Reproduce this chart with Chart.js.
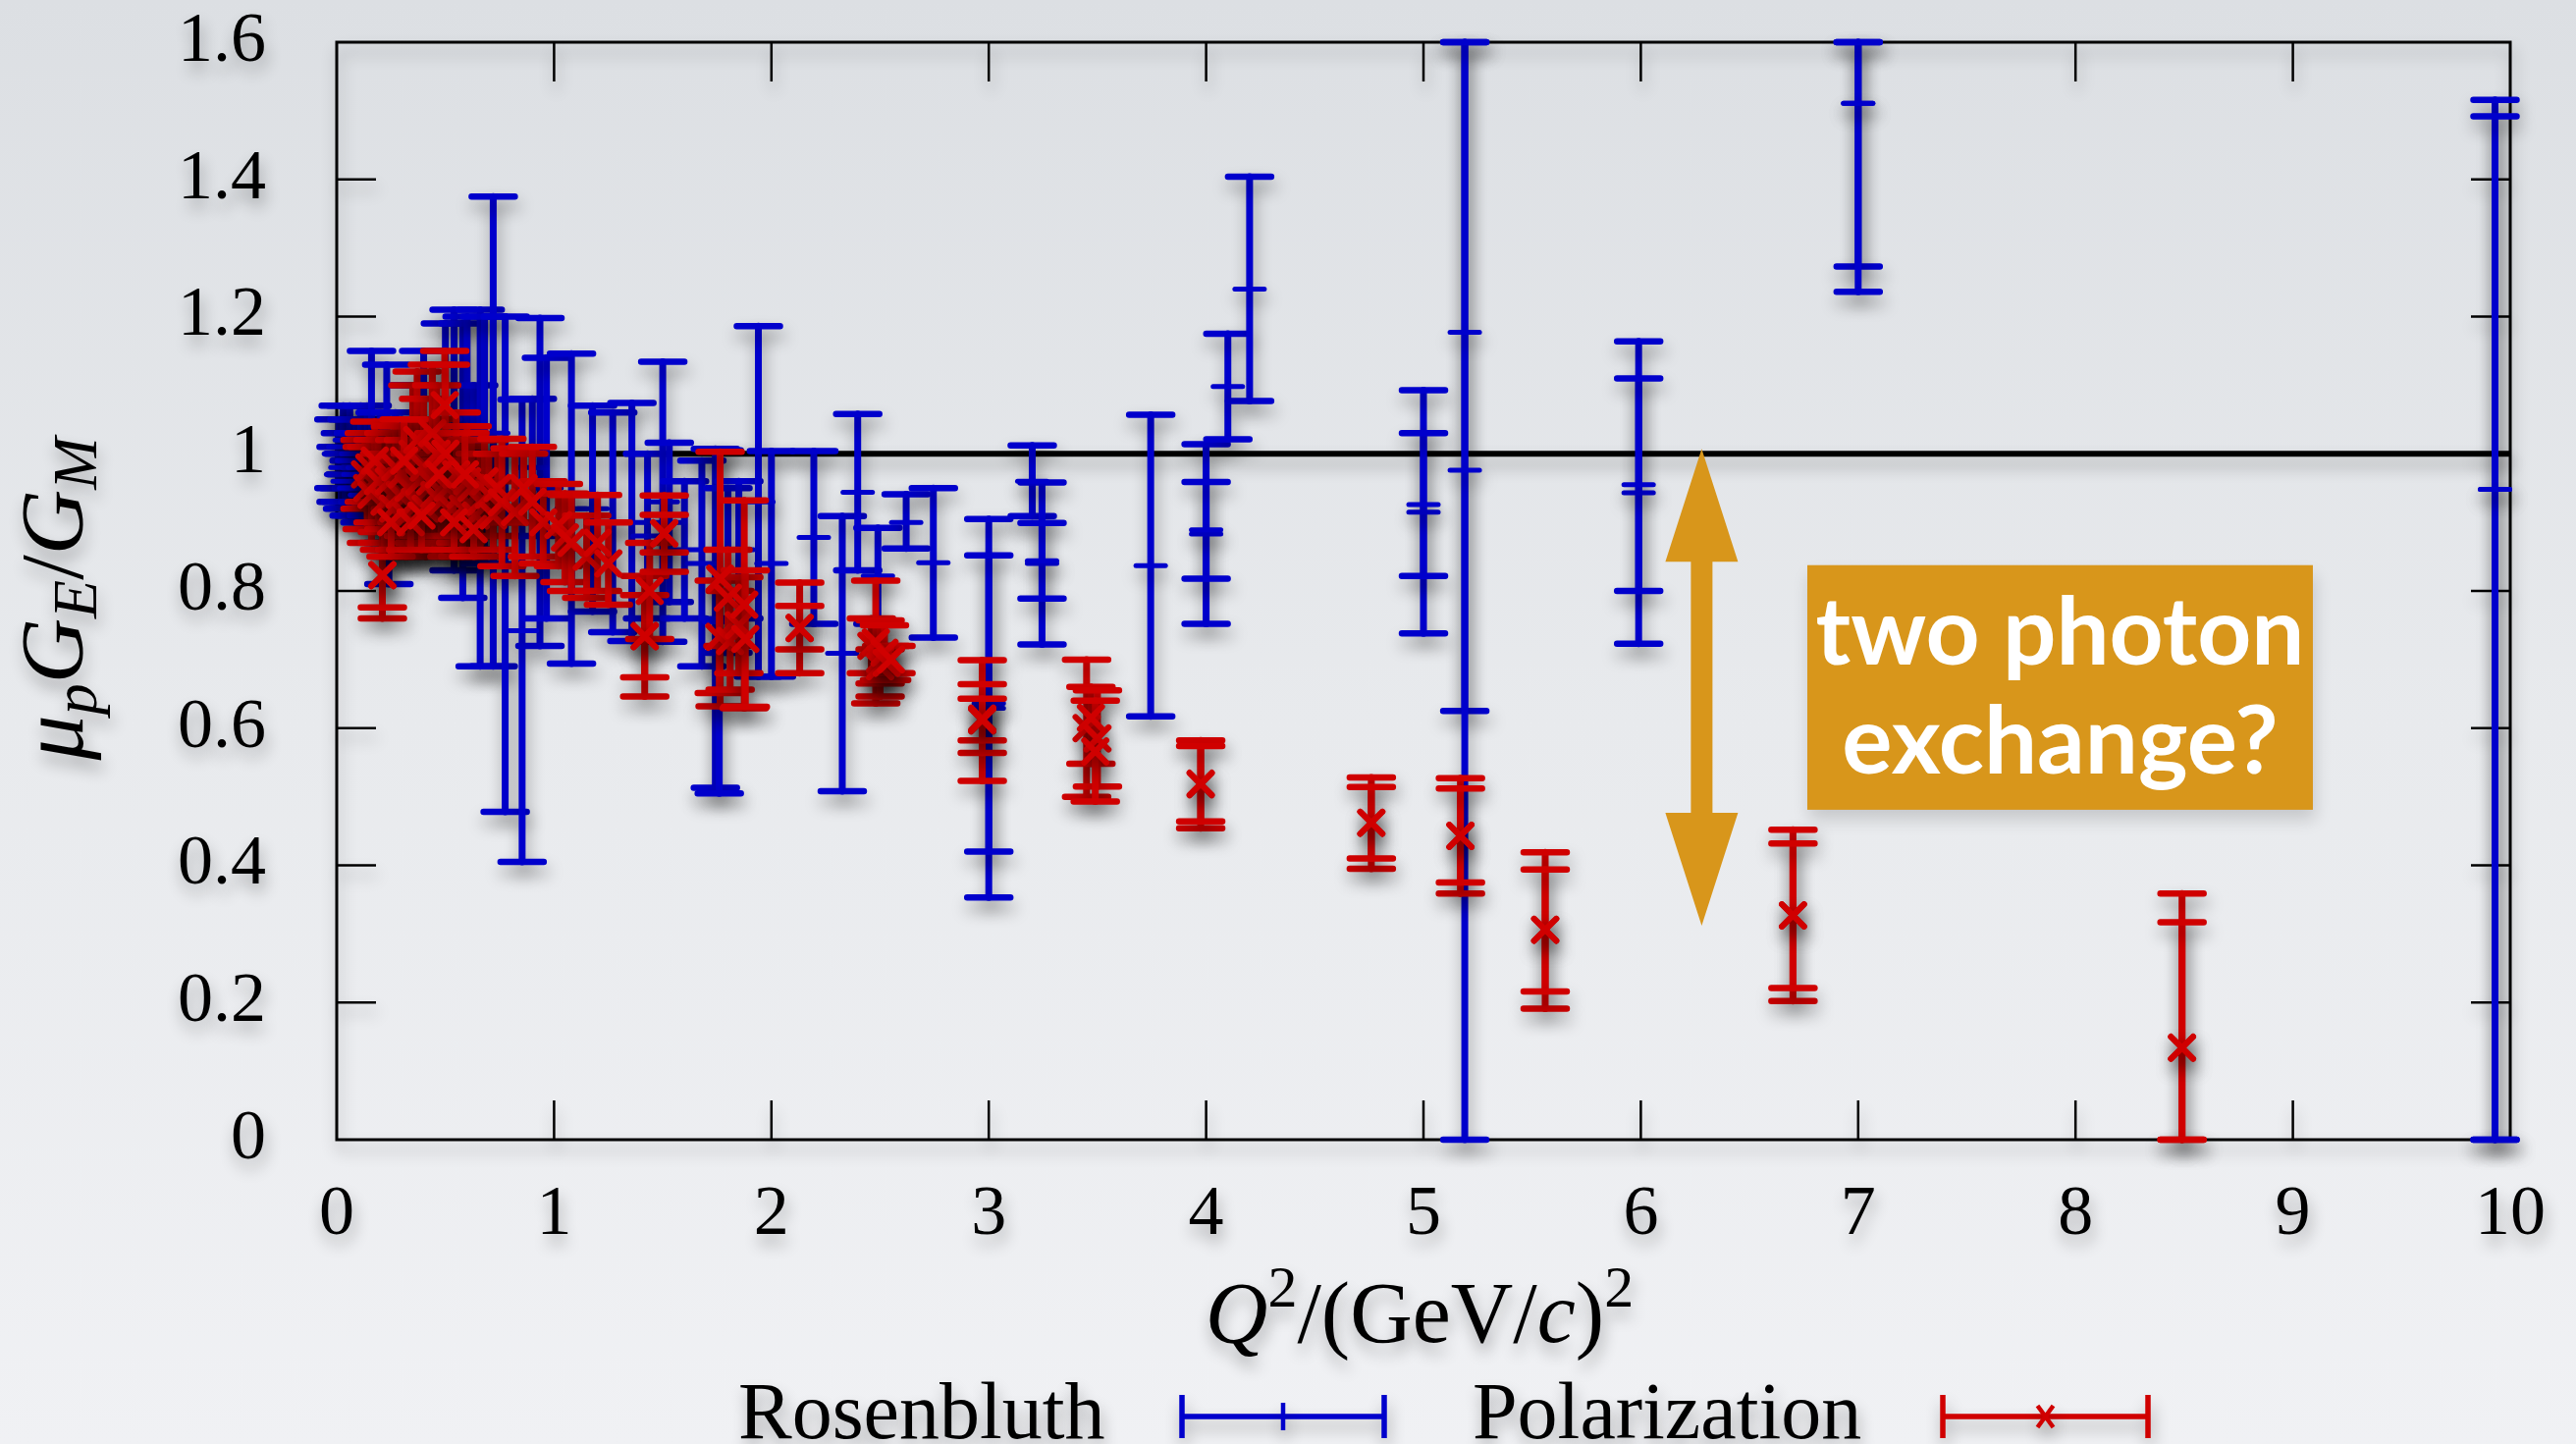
<!DOCTYPE html>
<html>
<head>
<meta charset="utf-8">
<title>mu_p G_E / G_M</title>
<script src="https://cdn.jsdelivr.net/npm/chart.js@4.4.1/dist/chart.umd.min.js"></script>
<style>
  html, body { margin: 0; padding: 0; background: #e8eaee; overflow: hidden; }
  canvas { display: block; }
</style>
</head>
<body>
<canvas id="ratioChart" width="2624" height="1471"></canvas>
<script>
// ── Rosenbluth separation (blue) ──
const rosQ2   = [0.01, 0.02, 0.03, 0.04, 0.05, 0.06, 0.07, 0.08, 0.09, 0.10, 0.11, 0.12, 0.13, 0.14, 0.15,
                 0.16, 0.20, 0.23, 0.24, 0.27, 0.30, 0.35, 0.40, 0.45, 0.50, 0.54, 0.58, 0.60, 0.63, 0.66,
                 0.68, 0.72, 0.775, 0.853, 0.90, 0.935, 0.965, 1.08, 1.177, 1.27, 1.358, 1.43, 1.50, 1.53, 1.60,
                 1.68, 1.742, 1.76, 1.80, 1.85, 1.94, 2.00, 2.195, 2.326, 2.397, 2.49, 2.62, 2.745, 3.00, 3.00,
                 3.20, 3.245, 3.245, 3.745, 4.00, 4.00, 4.10, 4.20, 5.00, 5.00, 5.19, 5.19, 5.99, 5.99, 7.00,
                 7.00, 9.93, 9.93];
const rosVal  = [1.00, 0.97, 1.01, 0.98, 0.96, 1.02, 0.99, 0.95, 1.00, 0.97, 1.03, 0.98, 0.94, 1.01, 0.97,
                 1.03, 0.98, 1.00, 0.92, 1.00, 0.96, 1.00, 1.02, 0.97, 1.05, 1.02, 0.99, 1.03, 0.98, 0.95,
                 1.02, 1.03, 0.84, 0.742, 0.98, 0.96, 0.95, 0.92, 0.92, 0.90, 0.90, 0.88, 0.93, 0.90, 0.86,
                 0.84, 0.76, 0.755, 0.83, 0.86, 0.93, 0.84, 0.878, 0.709, 0.944, 0.822, 0.90, 0.841, 0.629, 0.636,
                 0.96, 0.84, 0.844, 0.837, 0.883, 0.889, 1.098, 1.24, 0.915, 0.926, 1.177, 0.976, 0.943, 0.955, 1.511,
                 1.511, 0.948, 0.948];
const rosLow  = [0.95, 0.93, 0.95, 0.93, 0.92, 0.97, 0.93, 0.91, 0.95, 0.91, 0.99, 0.93, 0.90, 0.95, 0.92,
                 0.91, 0.90, 0.87, 0.81, 0.94, 0.87, 0.90, 0.89, 0.89, 0.91, 0.83, 0.79, 0.86, 0.86, 0.69,
                 0.84, 0.69, 0.478, 0.405, 0.88, 0.72, 0.76, 0.694, 0.77, 0.74, 0.727, 0.76, 0.726, 0.784, 0.76,
                 0.69, 0.513, 0.505, 0.71, 0.76, 0.675, 0.675, 0.752, 0.508, 0.83, 0.752, 0.862, 0.732, 0.353, 0.42,
                 0.909, 0.722, 0.789, 0.617, 0.752, 0.818, 1.021, 1.077, 0.738, 0.822, 0.625, 0.0, 0.723, 0.80, 1.273,
                 1.236, 0.0, 0.0];
const rosHigh = [1.05, 1.01, 1.07, 1.03, 1.00, 1.07, 1.05, 0.99, 1.05, 1.03, 1.07, 1.03, 0.98, 1.07, 1.02,
                 1.15, 1.06, 1.13, 1.03, 1.06, 1.05, 1.10, 1.15, 1.05, 1.19, 1.21, 1.19, 1.20, 1.10, 1.21,
                 1.20, 1.375, 1.20, 1.079, 1.08, 1.198, 1.14, 1.146, 1.07, 1.06, 1.074, 1.00, 1.134, 1.016, 0.96,
                 0.99, 1.007, 1.005, 0.95, 0.96, 1.186, 1.004, 1.004, 0.909, 1.058, 0.892, 0.941, 0.95, 0.905, 0.852,
                 1.012, 0.958, 0.899, 1.057, 1.014, 0.959, 1.175, 1.404, 1.0925, 1.03, 1.6, 1.6, 1.164, 1.11, 1.6,
                 1.6, 1.516, 1.492];

// ── Polarization transfer (red) ──
const polQ2   = [0.13, 0.14, 0.15, 0.16, 0.175, 0.19, 0.21, 0.21, 0.22, 0.24, 0.26, 0.27, 0.29, 0.30, 0.32,
                 0.33, 0.35, 0.36, 0.37, 0.38, 0.40, 0.41, 0.43, 0.44, 0.45, 0.46, 0.48, 0.497, 0.50, 0.51,
                 0.53, 0.55, 0.57, 0.58, 0.60, 0.62, 0.64, 0.66, 0.68, 0.70,
                 0.25, 0.31, 0.34, 0.39, 0.47, 0.54, 0.59, 0.63, 0.72, 0.74,
                 0.76, 0.82, 0.86, 0.90, 0.95, 1.02, 1.05, 1.08, 1.15, 1.20, 1.25, 1.417, 1.417, 1.44, 1.507,
                 1.507, 1.764, 1.76, 1.80, 1.81, 1.85, 1.875, 1.88, 2.13, 2.13, 2.46, 2.48, 2.50, 2.50, 2.52,
                 2.53, 2.55, 2.97, 2.97, 2.97, 3.45, 3.47, 3.50, 3.49, 3.975, 3.975, 4.76, 4.76, 5.17, 5.17,
                 5.56, 5.56, 6.70, 6.70, 8.49, 8.49];
const polVal  = [0.97, 0.95, 0.98, 0.94, 0.99, 0.96, 0.823, 0.823, 0.93, 0.96, 0.92, 0.98, 0.94, 0.97, 0.91,
                 0.95, 1.00, 0.93, 1.02, 0.96, 0.98, 0.92, 0.96, 1.03, 0.94, 1.00, 0.93, 1.071, 1.00, 0.95,
                 0.92, 0.97, 0.94, 0.92, 0.96, 0.95, 0.91, 0.93, 0.96, 0.94,
                 0.90, 0.99, 0.90, 0.91, 0.97, 0.90, 0.97, 0.89, 0.91, 0.95,
                 0.929, 0.915, 0.95, 0.93, 0.90, 0.896, 0.878, 0.87, 0.85, 0.87, 0.84, 0.734, 0.734, 0.80, 0.884,
                 0.884, 0.818, 0.733, 0.79, 0.727, 0.75, 0.78, 0.73, 0.746, 0.746, 0.72, 0.725, 0.70, 0.69, 0.71,
                 0.695, 0.70, 0.611, 0.614, 0.612, 0.600, 0.615, 0.585, 0.566, 0.518, 0.519, 0.462, 0.462, 0.443, 0.443,
                 0.306, 0.306, 0.327, 0.327, 0.134, 0.134];
const polLow  = [0.92, 0.89, 0.93, 0.87, 0.93, 0.90, 0.760, 0.776, 0.86, 0.89, 0.85, 0.92, 0.86, 0.90, 0.85,
                 0.88, 0.90, 0.86, 0.92, 0.87, 0.88, 0.85, 0.87, 0.93, 0.86, 0.90, 0.86, 0.99, 0.87, 0.88,
                 0.85, 0.88, 0.87, 0.85, 0.88, 0.88, 0.85, 0.86, 0.90, 0.88,
                 0.85, 0.93, 0.86, 0.86, 0.91, 0.86, 0.91, 0.85, 0.86, 0.90,
                 0.836, 0.822, 0.90, 0.85, 0.84, 0.836, 0.813, 0.80, 0.79, 0.80, 0.78, 0.646, 0.674, 0.73, 0.828,
                 0.856, 0.632, 0.651, 0.72, 0.656, 0.68, 0.629, 0.631, 0.680, 0.715, 0.68, 0.636, 0.646, 0.665, 0.67,
                 0.67, 0.68, 0.523, 0.564, 0.582, 0.500, 0.548, 0.515, 0.493, 0.454, 0.464, 0.395, 0.410, 0.359, 0.375,
                 0.191, 0.216, 0.202, 0.221, 0.0, 0.0];
const polHigh = [1.02, 1.01, 1.03, 1.01, 1.047, 1.02, 0.886, 0.870, 1.00, 1.03, 0.99, 1.04, 1.02, 1.04, 0.97,
                 1.02, 1.10, 1.00, 1.12, 1.05, 1.08, 0.99, 1.05, 1.13, 1.02, 1.10, 1.00, 1.15, 1.13, 1.02,
                 0.99, 1.06, 1.01, 0.99, 1.04, 1.02, 0.97, 1.00, 1.02, 1.00,
                 0.95, 1.05, 0.94, 0.96, 1.03, 0.94, 1.03, 0.93, 0.96, 1.00,
                 1.022, 1.008, 1.00, 1.01, 0.96, 0.956, 0.942, 0.94, 0.91, 0.94, 0.90, 0.822, 0.794, 0.87, 0.939,
                 0.911, 1.003, 0.815, 0.86, 0.80, 0.82, 0.932, 0.83, 0.812, 0.778, 0.76, 0.815, 0.757, 0.715, 0.75,
                 0.72, 0.72, 0.699, 0.664, 0.643, 0.700, 0.660, 0.655, 0.640, 0.582, 0.574, 0.528, 0.514, 0.527, 0.512,
                 0.419, 0.394, 0.452, 0.432, 0.359, 0.317];

// axis ticks
const xTicks = [0, 1, 2, 3, 4, 5, 6, 7, 8, 9, 10];
const yTicks = [0, 0.2, 0.4, 0.6, 0.8, 1.0, 1.2, 1.4, 1.6];

// annotation: arrow + box, in data units
const arrowQ2 = 6.28;
const arrowTop = 1.007;
const arrowBottom = 0.312;
const boxQ2 = [6.766, 9.092];
const boxVal = [0.481, 0.8376];
const boxLines = ['two photon', 'exchange?'];

const BLUE = '#0000cc';
const RED = '#d00000';
const ORANGE = '#d8961b';
const SERIF = "'Liberation Serif', 'Times New Roman', serif";

function setShadow(ctx, alpha) {
    ctx.shadowColor = `rgba(0,0,0,${alpha})`;
    ctx.shadowBlur = 16;
    ctx.shadowOffsetX = 2;
    ctx.shadowOffsetY = 10;
}

function clearShadow(ctx) {
    ctx.shadowColor = 'rgba(0,0,0,0)';
    ctx.shadowBlur = 0;
    ctx.shadowOffsetX = 0;
    ctx.shadowOffsetY = 0;
}

// draws a list of [text, font, dy] pieces one after another, centred on x
function drawRich(ctx, parts, x, y) {
    let total = 0;
    parts.forEach(p => { ctx.font = p[1]; total += ctx.measureText(p[0]).width; });
    let cx = x - total / 2;
    parts.forEach(p => {
        ctx.font = p[1];
        ctx.fillText(p[0], cx, y + (p[2] || 0));
        cx += ctx.measureText(p[0]).width;
    });
}

// ── background, frame, ticks, y=1 line ──
const framePlugin = {
    id: 'frame',
    beforeDraw(chart) {
        const { ctx, width, height } = chart;
        ctx.save();
        const g = ctx.createLinearGradient(0, 0, 0, height);
        g.addColorStop(0, '#dcdfe3');
        g.addColorStop(0.5, '#e8eaed');
        g.addColorStop(1, '#f0f1f4');
        ctx.fillStyle = g;
        ctx.fillRect(0, 0, width, height);
        ctx.restore();
        setShadow(ctx, 0.3);
    },
    beforeDatasetsDraw(chart) {
        const { ctx, chartArea: a, scales: { x, y } } = chart;
        ctx.save();
        setShadow(ctx, 0.3);
        ctx.strokeStyle = '#000';

        // reference line at 1
        ctx.lineWidth = 6;
        ctx.beginPath();
        ctx.moveTo(a.left, y.getPixelForValue(1));
        ctx.lineTo(a.right, y.getPixelForValue(1));
        ctx.stroke();

        ctx.lineWidth = 3;
        ctx.strokeRect(a.left, a.top, a.right - a.left, a.bottom - a.top);

        ctx.lineWidth = 2.5;
        ctx.beginPath();
        xTicks.slice(1, -1).forEach(v => {
            const px = x.getPixelForValue(v);
            ctx.moveTo(px, a.bottom); ctx.lineTo(px, a.bottom - 40);
            ctx.moveTo(px, a.top); ctx.lineTo(px, a.top + 40);
        });
        yTicks.slice(1, -1).forEach(v => {
            const py = y.getPixelForValue(v);
            ctx.moveTo(a.left, py); ctx.lineTo(a.left + 40, py);
            ctx.moveTo(a.right, py); ctx.lineTo(a.right - 40, py);
        });
        ctx.stroke();
        ctx.restore();
    }
};

// ── error bars, drawn right before each dataset's markers ──
const errorBarPlugin = {
    id: 'errorBars',
    beforeDatasetDraw(chart, args) {
        const ds = chart.data.datasets[args.index];
        const { ctx, scales: { x, y } } = chart;
        ctx.save();
        setShadow(ctx, 0.38);
        ctx.strokeStyle = ds.borderColor;
        ctx.lineCap = 'round';
        ds.data.forEach((pt, i) => {
            const px = x.getPixelForValue(pt.x);
            const yl = y.getPixelForValue(Math.max(ds.low[i], y.min));
            const yh = y.getPixelForValue(Math.min(ds.high[i], y.max));
            ctx.lineWidth = 7;
            ctx.beginPath();
            ctx.moveTo(px, yl); ctx.lineTo(px, yh);
            ctx.stroke();
            ctx.lineWidth = 6.5;
            ctx.beginPath();
            ctx.moveTo(px - 22, yl); ctx.lineTo(px + 22, yl);
            ctx.moveTo(px - 22, yh); ctx.lineTo(px + 22, yh);
            ctx.stroke();
        });
    },
    afterDatasetDraw(chart) {
        chart.ctx.restore();
    }
};

// ── axis titles, legend, annotation ──
const overlayPlugin = {
    id: 'overlay',
    afterDraw(chart) {
        const { ctx, scales: { x, y } } = chart;
        ctx.save();
        setShadow(ctx, 0.3);
        ctx.fillStyle = '#000';
        ctx.textBaseline = 'alphabetic';

        const it = s => `italic ${s}px ${SERIF}`;
        const up = s => `${s}px ${SERIF}`;

        // y title, rotated
        ctx.save();
        ctx.translate(84, 610);
        ctx.rotate(-Math.PI / 2);
        drawRich(ctx, [
            ['μ', it(92)], ['p', it(64), 14], ['G', it(92)], ['E', it(64), 14],
            ['/', up(92)], ['G', it(92)], ['M', it(64), 14]
        ], 0, 0);
        ctx.restore();

        // x title
        drawRich(ctx, [
            ['Q', it(88)], ['2', up(60), -36], ['/(GeV/', up(88)], ['c', it(88)], [')', up(88)], ['2', up(60), -36]
        ], 1446, 1367);

        // legend
        ctx.font = up(82);
        ctx.textAlign = 'left';
        ctx.fillText('Rosenbluth', 752, 1465);
        ctx.fillText('Polarization', 1500, 1465);

        ctx.lineCap = 'butt';
        const sample = (x0, x1, color, mark) => {
            const yc = 1443;
            ctx.strokeStyle = color;
            ctx.lineWidth = 5.5;
            ctx.beginPath();
            ctx.moveTo(x0, yc); ctx.lineTo(x1, yc);
            ctx.moveTo(x0, yc - 22); ctx.lineTo(x0, yc + 22);
            ctx.moveTo(x1, yc - 22); ctx.lineTo(x1, yc + 22);
            ctx.stroke();
            const xm = (x0 + x1) / 2;
            ctx.lineWidth = 4.5;
            ctx.beginPath();
            if (mark === 'plus') {
                ctx.moveTo(xm, yc - 14); ctx.lineTo(xm, yc + 14);
            } else {
                ctx.moveTo(xm - 8, yc - 11); ctx.lineTo(xm + 8, yc + 11);
                ctx.moveTo(xm + 8, yc - 11); ctx.lineTo(xm - 8, yc + 11);
            }
            ctx.stroke();
        };
        sample(1204, 1410, BLUE, 'plus');
        sample(1979, 2188, RED, 'cross');

        // double arrow
        clearShadow(ctx);
        const ax = x.getPixelForValue(arrowQ2);
        const at = y.getPixelForValue(arrowTop);
        const ab = y.getPixelForValue(arrowBottom);
        const head = 115, hw = 37, sw = 11;
        ctx.fillStyle = ORANGE;
        ctx.beginPath();
        ctx.moveTo(ax, at);
        ctx.lineTo(ax + hw, at + head);
        ctx.lineTo(ax + sw, at + head);
        ctx.lineTo(ax + sw, ab - head);
        ctx.lineTo(ax + hw, ab - head);
        ctx.lineTo(ax, ab);
        ctx.lineTo(ax - hw, ab - head);
        ctx.lineTo(ax - sw, ab - head);
        ctx.lineTo(ax - sw, at + head);
        ctx.lineTo(ax - hw, at + head);
        ctx.closePath();
        ctx.fill();

        // label box
        const bx0 = x.getPixelForValue(boxQ2[0]);
        const bx1 = x.getPixelForValue(boxQ2[1]);
        const by0 = y.getPixelForValue(boxVal[1]);
        const by1 = y.getPixelForValue(boxVal[0]);
        setShadow(ctx, 0.15);
        ctx.fillRect(bx0, by0, bx1 - bx0, by1 - by0);
        clearShadow(ctx);
        ctx.fillStyle = '#ffffff';
        ctx.textAlign = 'center';
        ctx.font = `bold 96px Lato, 'Open Sans', sans-serif`;
        const bc = (bx0 + bx1) / 2;
        ctx.fillText(boxLines[0], bc, by0 + 101);
        ctx.fillText(boxLines[1], bc, by0 + 212);
        ctx.restore();
    }
};

const toPoints = (xs, ys) => xs.map((q, i) => ({ x: q, y: ys[i] }));

const tickFont = { family: SERIF, size: 72 };

new Chart(document.getElementById('ratioChart'), {
    type: 'scatter',
    data: {
        datasets: [
            {
                label: 'Rosenbluth',
                data: toPoints(rosQ2, rosVal),
                low: rosLow,
                high: rosHigh,
                borderColor: BLUE,
                backgroundColor: BLUE,
                pointStyle: 'line',
                pointRadius: 15,
                borderWidth: 5,
                clip: false,
                order: 2
            },
            {
                label: 'Polarization',
                data: toPoints(polQ2, polVal),
                low: polLow,
                high: polHigh,
                borderColor: RED,
                backgroundColor: RED,
                pointStyle: 'crossRot',
                pointRadius: 16,
                borderWidth: 6,
                clip: false,
                order: 1
            }
        ]
    },
    options: {
        responsive: false,
        animation: false,
        events: [],
        layout: { padding: { left: 0, top: 43, right: 67, bottom: 0 } },
        plugins: {
            legend: { display: false },
            tooltip: { enabled: false }
        },
        scales: {
            x: {
                type: 'linear',
                min: 0,
                max: 10,
                grid: { display: false, drawTicks: false },
                border: { display: false },
                ticks: { stepSize: 1, color: '#000', font: tickFont, padding: 34, maxRotation: 0 },
                afterFit: s => { s.height = 310; s.paddingLeft = 0; s.paddingRight = 0; }
            },
            y: {
                type: 'linear',
                min: 0,
                max: 1.6,
                grid: { display: false, drawTicks: false },
                border: { display: false },
                ticks: {
                    stepSize: 0.2,
                    color: '#000',
                    font: tickFont,
                    padding: 72,
                    callback: v => String(Math.round(v * 10) / 10)
                },
                afterFit: s => { s.width = 343; s.paddingTop = 0; s.paddingBottom = 0; }
            }
        }
    },
    plugins: [framePlugin, errorBarPlugin, overlayPlugin]
});
</script>
</body>
</html>
